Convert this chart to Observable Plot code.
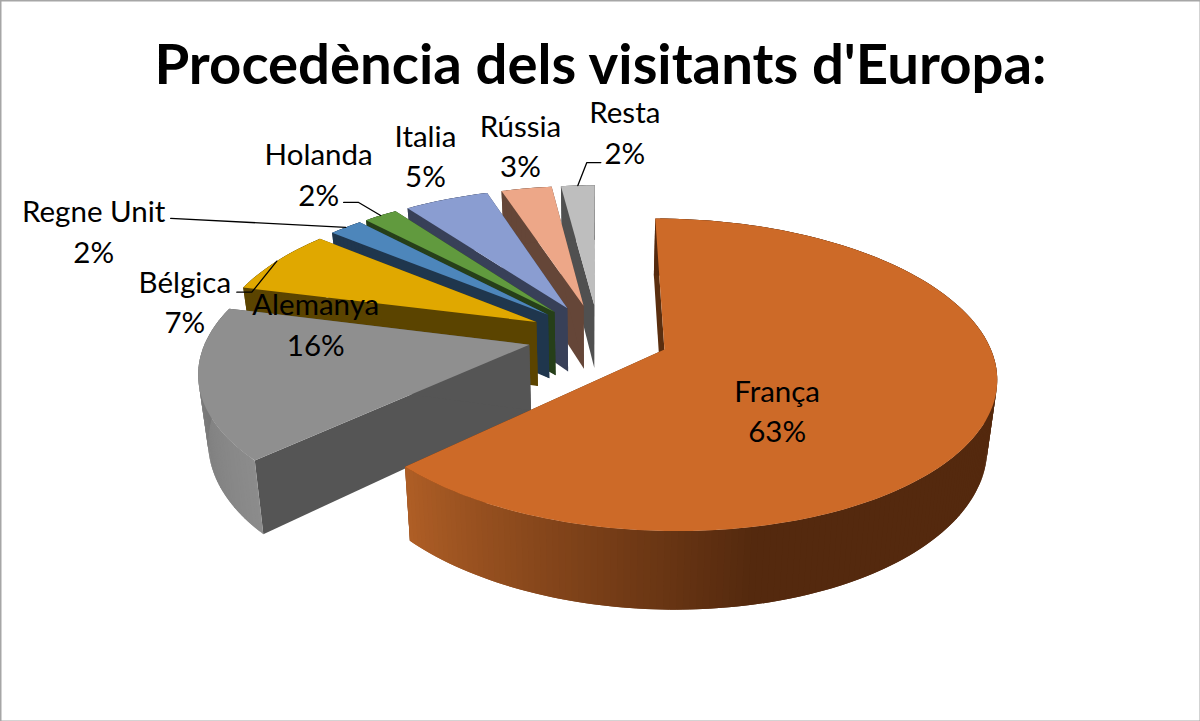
<!DOCTYPE html>
<html><head><meta charset="utf-8">
<script src="https://cdn.jsdelivr.net/npm/d3@7"></script>
<script src="https://cdn.jsdelivr.net/npm/@observablehq/plot@0.6"></script>
<style>html,body{margin:0;padding:0;background:#fff}svg{display:block}</style>
</head><body><div id="chart"></div>
<script>
const titleText = "Procedència dels visitants d'Europa:";
const categories = ["França","Alemanya","Bélgica","Regne Unit","Holanda","Italia","Rússia","Resta"];
const shares = [63,16,7,2,2,5,3,2];

// styles, by category
const topColors  = ["#cd6a28","#8f8f8f","#e0a800","#4d86bb","#619a3e","#8a9dd1","#eda788","#bebebe"];
const wallColors = ["#5a2e0f","#555555","#5b4400","#1f364d","#263f19","#384058","#654638","#505050"];
const arcLight   = ["#b05f26","#8c8c8c","#5b4400","#1f364d","#263f19","#384058","#654638","#505050"];
const arcDark    = ["#54290e","#6e6e6e","#5b4400","#1f364d","#263f19","#384058","#654638","#505050"];

// label placement relative to the middle of each slice's rim
const labelDx = [-212,117,-92,-252,-62,-21,-6,47];
const labelDy = [-5,-61,39,2,-43,-45,-44,-55];
// leader elbows relative to the same point (empty: no leader)
const leaders = [[],[],[[-25,31],[-40,31]],[[-175,-9]],[[-22,-13],[-37,-13]],[],[],[[9,-23],[23,-23]]];

// view of the 3-D pie
const view = {cx:598, cy:336, k:322, ky:148, p:0.159, h:65, q:0.025, explode:0.22};
const rad = a => a*Math.PI/180;
function project(X,Y,Z){
  const w = 1 - Y*view.p;
  return {x: view.cx + (X*view.k/w)*(1-Z*view.q), y: view.cy + (Y*view.ky + Z*view.h)/w};
}

const total = d3.sum(shares);
const cumulative = d3.cumsum(shares);
const polys = [];            // every facet as an outline
const labels = [];
const leaderPts = [];
// painted from the farthest slice to the nearest
d3.range(categories.length).reverse().forEach(i=>{
  const name = categories[i];
  const a1 = cumulative[i]/total*360, a0 = a1 - shares[i]/total*360;
  const mid = (a0+a1)/2;
  const ax = view.explode*Math.sin(rad(mid)), ay = -view.explode*Math.cos(rad(mid));
  const rim = (a,Z)=>project(ax+Math.sin(rad(a)), ay-Math.cos(rad(a)), Z);
  const apex = Z=>project(ax,ay,Z);
  const add = (id,c,pts)=>pts.forEach(p=>polys.push({id:`${i}-${id}`,c,x:p.x,y:p.y}));
  // radial walls
  add("w0",wallColors[i],[apex(0),rim(a0,0),rim(a0,1),apex(1)]);
  add("w1",wallColors[i],[apex(0),rim(a1,0),rim(a1,1),apex(1)]);
  // outer wall, cut in narrow shaded strips that overlap to hide seams
  const n = Math.max(2,Math.ceil((a1-a0)));
  const step = (a1-a0)/n;
  const ramp = d3.interpolateRgb(arcDark[i],arcLight[i]);
  d3.range(n).forEach(j=>{
    const s = a0+step*j, e = Math.min(a1,s+step*2);
    let t;
    if (i===1) t = 1-(s-226.8)/57.6;
    else t = Math.max(0,Math.min(1,(s-168)/(226.8-168)));
    add("a"+j,ramp(t),[rim(s,0),rim(e,0),rim(e,1),rim(s,1)]);
  });
  // top face
  const arc = d3.range(0,n+1).map(j=>rim(a0+step*j,0));
  add("top",topColors[i],[apex(0),...arc]);
  // label and leader
  const m = project(ax+Math.sin(rad(mid)), ay-Math.cos(rad(mid)),0);
  labels.push({text:`${name}\n${shares[i]}%`, x:m.x+labelDx[i], y:m.y+labelDy[i]});
  if (leaders[i].length){
    leaderPts.push({id:i,x:m.x,y:m.y});
    leaders[i].forEach(([dx,dy])=>leaderPts.push({id:i,x:m.x+dx,y:m.y+dy}));
  }
});

const font = "Lato, Carlito, sans-serif";
const chart = Plot.plot({
  width:1200, height:721, margin:0,
  x:{domain:[0,1200], range:[0,1200], axis:null},
  y:{domain:[0,721], range:[0,721], axis:null},
  color:{type:"identity"},
  marks:[
    Plot.line(polys,{x:"x",y:"y",z:"id",fill:"c",curve:"linear"}),
    Plot.line(leaderPts,{x:"x",y:"y",z:"id",stroke:"#000",strokeWidth:1.3,curve:"linear"}),
    Plot.text(labels,{x:"x",y:"y",text:"text",fontSize:29.5,lineHeight:1.37,fontFamily:font,fill:"#000",textAnchor:"middle"}),
    Plot.text([titleText],{x:()=>600,y:()=>65,text:d=>d,fontSize:56.3,fontWeight:"bold",fontFamily:font,fill:"#000",textAnchor:"middle"}),
    Plot.frame({stroke:"#a6a6a6",strokeWidth:2})
  ]
});
document.getElementById("chart").append(chart);
</script></body></html>
